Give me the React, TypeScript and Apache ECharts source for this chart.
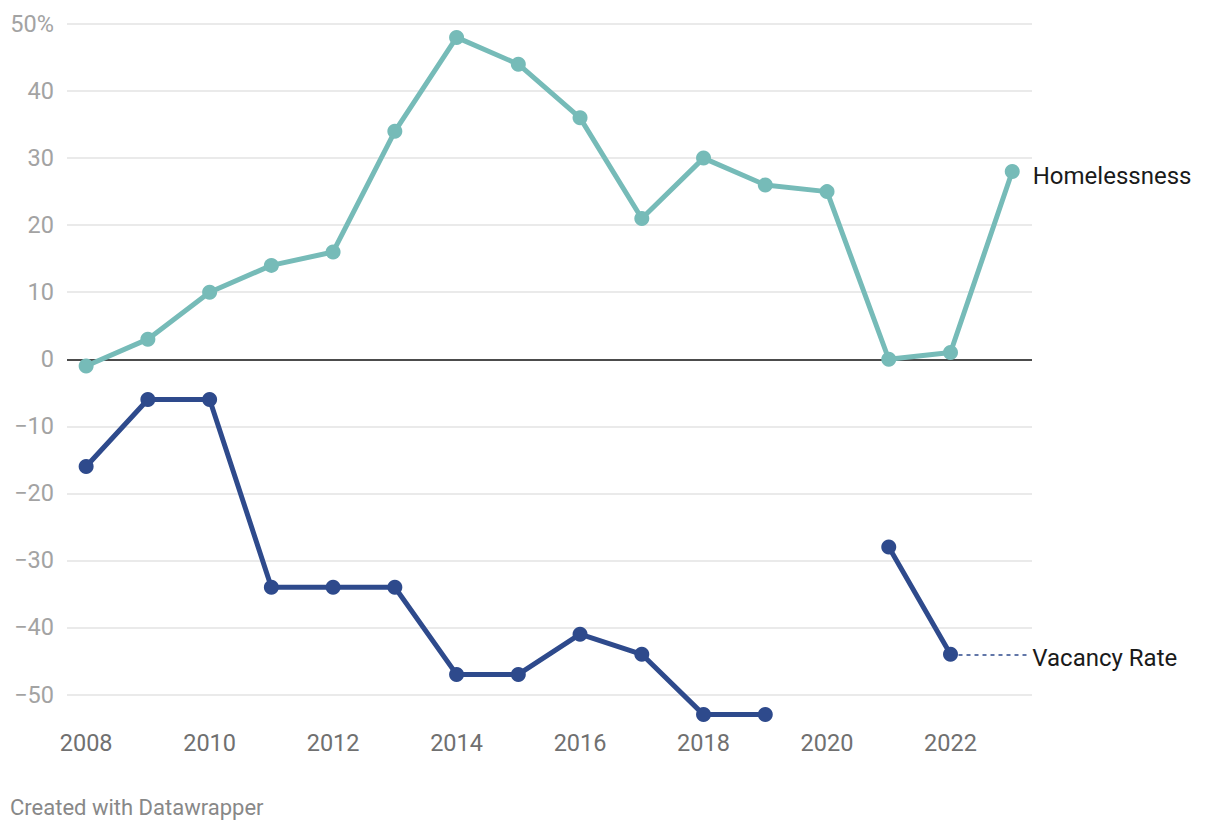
import React, { useEffect, useRef } from "react";
import * as echarts from "echarts";

const years = [2008, 2009, 2010, 2011, 2012, 2013, 2014, 2015, 2016, 2017, 2018, 2019, 2020, 2021, 2022, 2023];
const homelessness = [-1, 3, 10, 14, 16, 34, 48, 44, 36, 21, 30, 26, 25, 0, 1, 28];
const vacancyRate: (number | null)[] = [-16, -6, -6, -34, -34, -34, -47, -47, -41, -44, -53, -53, null, -28, -44, null];
const xTickLabels = [2008, 2010, 2012, 2014, 2016, 2018, 2020, 2022];
const yTicks = [-50, -40, -30, -20, -10, 0, 10, 20, 30, 40, 50];

const TEAL = "#76bbb8";
const NAVY = "#2e4a8c";
const FONT = "Roboto, 'Noto Sans', sans-serif";

export default function App() {
  const ref = useRef<HTMLDivElement>(null);
  useEffect(() => {
    if (!ref.current) return;
    const chart = echarts.init(ref.current, undefined, { renderer: "svg" });
    const homData = years.map((y, i) => [y, homelessness[i]]);
    const vacData = years.map((y, i) => [y, vacancyRate[i]]);
    const lastVacIdx = vacancyRate.reduce((acc: number, v, i) => (v !== null ? i : acc), 0);
    const splitColors = yTicks.map((v) => (v === 0 ? "#111111" : "#e3e3e3"));
    chart.setOption({
      animation: false,
      backgroundColor: "#ffffff",
      textStyle: { fontFamily: FONT },
      grid: { left: 67, right: 188, top: 24, bottom: 137.5, containLabel: false },
      xAxis: {
        type: "value",
        min: 2007.69,
        max: 2023.32,
        axisLine: { show: false },
        axisTick: { show: false },
        splitLine: { show: false },
        axisLabel: {
          customValues: xTickLabels,
          color: "#707070",
          fontSize: 23.5,
          fontFamily: FONT,
          margin: 36,
          formatter: (v: number) => String(v),
        },
      },
      yAxis: {
        type: "value",
        min: -50,
        max: 50,
        interval: 10,
        axisLine: { show: false },
        axisTick: { show: false },
        splitLine: { show: true, lineStyle: { color: splitColors, width: 1.5 } },
        axisLabel: {
          color: "#a3a3a3",
          fontSize: 23.5,
          fontFamily: FONT,
          margin: 13,
          formatter: (v: number) => (v === 50 ? "50%" : v < 0 ? "\u2212" + Math.abs(v) : String(v)),
        },
      },
      series: [
        {
          type: "line",
          name: "Homelessness",
          data: homData.map((d, i) =>
            i === homData.length - 1
              ? {
                  value: d,
                  label: {
                    show: true,
                    position: "right",
                    distance: 13,
                    offset: [0, 4],
                    formatter: "Homelessness",
                    color: "#1a1a1a",
                    fontSize: 24,
                    fontFamily: FONT,
                  },
                }
              : d
          ),
          clip: false,
          symbol: "circle",
          symbolSize: 15,
          lineStyle: { color: TEAL, width: 5 },
          itemStyle: { color: TEAL },
          z: 3,
        },
        {
          type: "line",
          name: "Vacancy Rate",
          data: vacData,
          connectNulls: false,
          clip: false,
          symbol: "circle",
          symbolSize: 15,
          lineStyle: { color: NAVY, width: 5 },
          itemStyle: { color: NAVY },
          z: 3,
          markLine: {
            silent: true,
            symbol: "none",
            lineStyle: { color: NAVY, type: [4, 4], width: 1.5 },
            label: {
              show: true,
              position: "end",
              distance: 4,
              offset: [0, 4],
              formatter: "Vacancy Rate",
              color: "#1a1a1a",
              fontSize: 24,
              fontFamily: FONT,
            },
            data: [
              [
                { coord: [years[lastVacIdx], vacancyRate[lastVacIdx]] },
                { coord: [2023.26, vacancyRate[lastVacIdx]] },
              ],
            ],
          },
        },
      ],
      graphic: [
        {
          type: "text",
          left: 10,
          top: 796,
          style: {
            text: "Created with Datawrapper",
            fill: "#888888",
            fontSize: 22,
            fontFamily: FONT,
          },
        },
      ],
    });
    return () => chart.dispose();
  }, []);
  return <div ref={ref} style={{ position: "fixed", left: 0, top: 0, width: 1220, height: 832 }} />;
}
